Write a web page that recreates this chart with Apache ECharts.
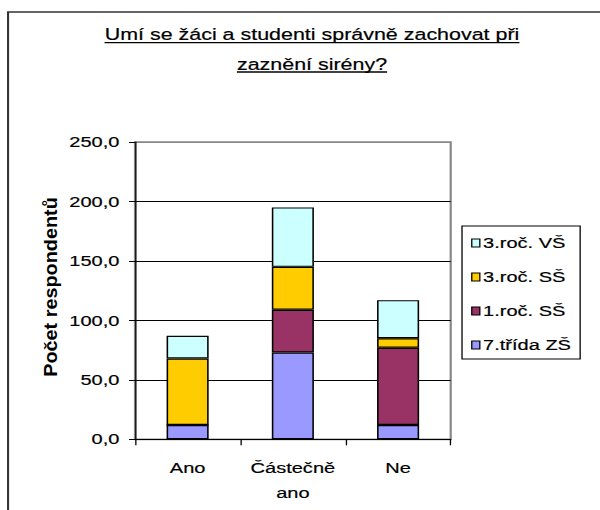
<!DOCTYPE html>
<html>
<head>
<meta charset="utf-8">
<script src="https://cdn.jsdelivr.net/npm/echarts@6/dist/echarts.min.js"></script>
<style>
  html, body { margin: 0; padding: 0; background: #fff; overflow: hidden; }
  /* Text in this chart is set wide (about 1.3x along the baseline), so the
     whole chart is laid out in a narrower box and stretched horizontally. */
  #chart { width: 461.54px; height: 510px; transform: scaleX(1.3); transform-origin: 0 0; }
</style>
</head>
<body>
<div id="chart"></div>
<script>
const STRETCH = 1.3;

const titleLines = ['Umí se žáci a studenti správně zachovat při', 'zaznění sirény?'];
const yAxisTitle = 'Počet respondentů';
const categories = ['Ano', 'Částečně\nano', 'Ne'];

const seriesNames = ['7.třída ZŠ', '1.roč. SŠ', '3.roč. SŠ', '3.roč. VŠ'];
const zs7 = [12, 73, 12];
const ss1 = [0, 36, 65];
const ss3 = [56, 36, 8];
const vs3 = [19, 50, 32];
const seriesColors = ['#9999FF', '#993366', '#FFCC00', '#CCFFFF'];
const legendOrder = ['3.roč. VŠ', '3.roč. SŠ', '1.roč. SŠ', '7.třída ZŠ'];

const yMin = 0, yMax = 250, yStep = 50;

const FONT = '"Liberation Sans", Arial, sans-serif';
const titleSize = 16.5;
const titleCenterX = 240;
// slight outline gives the heavier screen-rendered strokes
const heavy = { textBorderColor: '#000', textBorderWidth: 0.2 };

// width of each title line, for the underline
const measure = document.createElement('canvas').getContext('2d');
measure.font = titleSize + 'px ' + FONT;
const titleWidths = titleLines.map(t => measure.measureText(t).width);
const underlineY = [42.7, 72];

const seriesValues = [zs7, ss1, ss3, vs3];
const series = seriesNames.map((name, i) => ({
  name: name,
  type: 'bar',
  stack: 'total',
  barWidth: '40%',
  data: seriesValues[i],
  itemStyle: { color: seriesColors[i], borderColor: '#000', borderWidth: 1.2 },
  emphasis: { disabled: true }
}));

const graphics = [
  // chart frame (left and top edges)
  {
    type: 'polyline', silent: true,
    shape: { points: [[6.2, 700], [6.2, 12], [700, 12]] },
    style: { stroke: '#333', lineWidth: 1.6, fill: null }
  },
  // vertical axis title, wide along its baseline
  {
    type: 'text', silent: true,
    x: 39.2, y: 287,
    rotation: Math.PI / 2,
    scaleX: 1.24, scaleY: 1.1 / STRETCH,
    style: {
      text: yAxisTitle,
      font: 'bold 16px ' + FONT,
      fill: '#000',
      align: 'center',
      verticalAlign: 'middle'
    }
  }
];
titleWidths.forEach((w, i) => {
  graphics.push({
    type: 'line', silent: true,
    shape: { x1: titleCenterX - w / 2, y1: underlineY[i], x2: titleCenterX + w / 2, y2: underlineY[i] },
    style: { stroke: '#000', lineWidth: 1.3 }
  });
});

const chart = echarts.init(document.getElementById('chart'), null, { renderer: 'svg' });
chart.setOption({
  animation: false,
  backgroundColor: '#fff',
  title: {
    text: titleLines.join('\n'),
    left: titleCenterX,
    top: 20,
    padding: 0,
    textAlign: 'center',
    textStyle: Object.assign({
      fontFamily: FONT,
      fontSize: titleSize,
      fontWeight: 'normal',
      color: '#000',
      lineHeight: 29.3
    }, heavy)
  },
  legend: {
    data: legendOrder,
    orient: 'vertical',
    left: 355.4,
    top: 226,
    padding: [9, 7, 6, 7],
    itemWidth: 6.2,
    itemHeight: 8,
    itemGap: 18,
    icon: 'rect',
    borderColor: '#000',
    borderWidth: 1,
    selectedMode: false,
    itemStyle: { borderColor: '#000', borderWidth: 1 },
    textStyle: Object.assign({ fontFamily: FONT, fontSize: 15.4, color: '#000', lineHeight: 16, padding: [0, 0, 0, -2.5] }, heavy)
  },
  grid: {
    left: 103.85,
    top: 142,
    width: 242.85,
    height: 297.3,
    show: true,
    borderColor: '#888',
    borderWidth: 1.7,
    backgroundColor: '#fff'
  },
  xAxis: {
    type: 'category',
    data: categories,
    axisLine: { lineStyle: { color: '#000', width: 1 } },
    axisTick: { show: true, length: 6, lineStyle: { color: '#000', width: 1 } },
    axisLabel: Object.assign({
      interval: 0,
      margin: 16,
      fontFamily: FONT,
      fontSize: 15.4,
      color: '#000',
      lineHeight: 25
    }, heavy),
    splitLine: { show: false }
  },
  yAxis: {
    type: 'value',
    min: yMin,
    max: yMax,
    interval: yStep,
    axisLine: { show: true, lineStyle: { color: '#000', width: 1 } },
    axisTick: { show: true, length: 4.6, lineStyle: { color: '#000', width: 1 } },
    axisLabel: Object.assign({
      margin: 12,
      fontFamily: FONT,
      fontSize: 15.4,
      color: '#000',
      formatter: v => v.toFixed(1).replace('.', ',')
    }, heavy),
    splitLine: {
      show: true,
      lineStyle: { color: ['#000', '#000', '#000', '#000', '#000', '#888'], width: 1 }
    }
  },
  series: series,
  graphic: graphics
});
</script>
</body>
</html>
